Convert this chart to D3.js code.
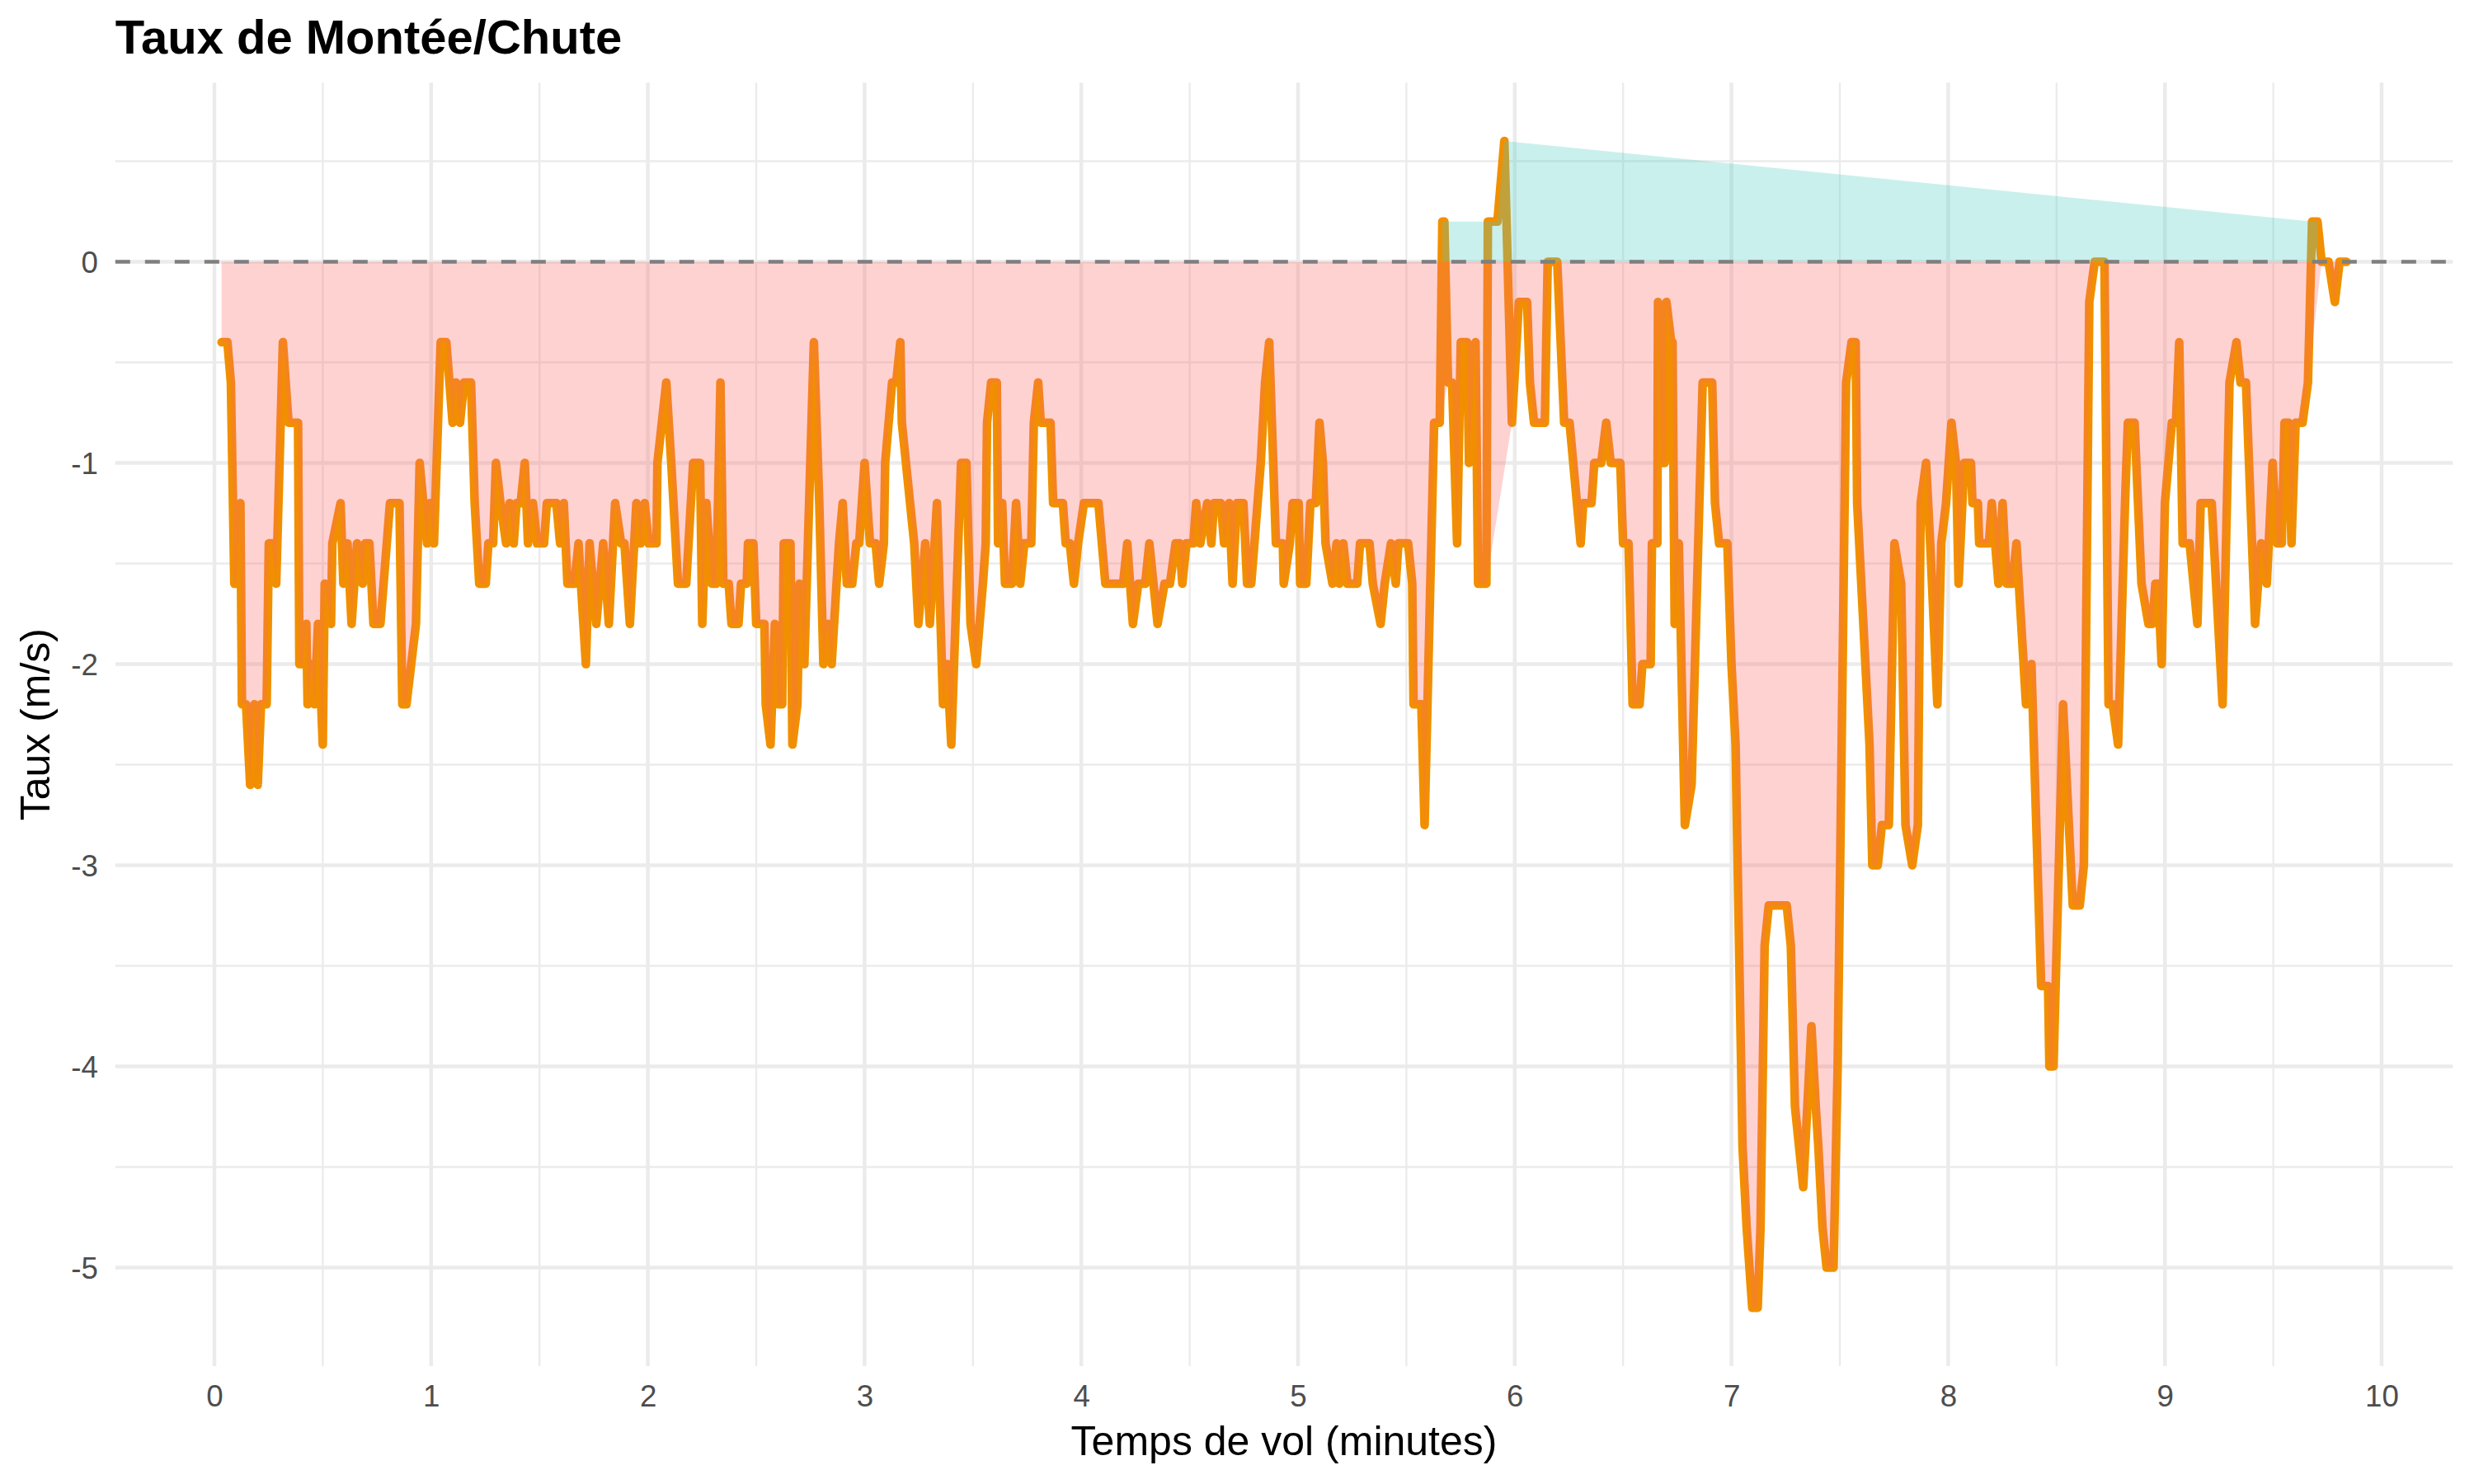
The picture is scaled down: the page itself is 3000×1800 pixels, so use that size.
<!DOCTYPE html>
<html><head><meta charset="utf-8">
<script src="https://cdn.jsdelivr.net/npm/d3@7"></script>
<style>html,body{margin:0;padding:0;background:#fff;} svg{display:block;}</style>
</head><body>
<svg id="chart" width="3000" height="1800"></svg>
<script>
// Flight time (minutes) and climb/sink rate (m/s)
const timeMin = [
0.033,0.060,0.076,0.092,0.101,0.120,0.127,0.146,0.165,0.184,0.200,0.215,0.241,0.251,0.266,0.285,0.316,0.342,0.386,0.392,
0.405,0.424,0.430,0.449,0.462,0.478,0.500,0.509,0.538,0.544,0.582,0.595,0.614,0.633,0.658,0.684,0.696,0.715,0.734,0.766,
0.810,0.854,0.867,0.886,0.930,0.947,0.981,0.994,1.013,1.044,1.070,1.099,1.114,1.133,1.152,1.184,1.201,1.222,1.252,1.264,
1.286,1.299,1.320,1.346,1.362,1.381,1.394,1.413,1.432,1.447,1.470,1.489,1.521,1.534,1.578,1.595,1.612,1.629,1.661,1.680,
1.714,1.731,1.762,1.794,1.820,1.849,1.877,1.892,1.917,1.947,1.966,1.985,2.004,2.040,2.044,2.085,2.108,2.139,2.177,2.209,
2.241,2.251,2.270,2.295,2.316,2.335,2.348,2.373,2.386,2.418,2.430,2.456,2.462,2.487,2.500,2.538,2.544,2.566,2.586,2.601,
2.620,2.627,2.658,2.667,2.690,2.700,2.722,2.766,2.791,2.810,2.829,2.848,2.882,2.899,2.918,2.943,2.962,2.975,3.000,3.025,
3.051,3.067,3.089,3.095,3.127,3.146,3.165,3.172,3.229,3.248,3.280,3.301,3.334,3.362,3.381,3.400,3.445,3.470,3.489,3.515,
3.546,3.559,3.565,3.584,3.610,3.616,3.635,3.648,3.680,3.699,3.718,3.737,3.769,3.781,3.801,3.813,3.858,3.870,3.915,3.928,
3.947,3.966,3.985,4.012,4.079,4.111,4.193,4.212,4.238,4.263,4.295,4.314,4.352,4.384,4.409,4.435,4.454,4.466,4.485,4.517,
4.530,4.549,4.581,4.600,4.612,4.644,4.659,4.682,4.698,4.718,4.748,4.765,4.784,4.828,4.848,4.867,4.898,4.930,4.934,4.962,
4.975,5.003,5.010,5.038,5.057,5.082,5.099,5.115,5.127,5.159,5.178,5.190,5.209,5.228,5.273,5.286,5.330,5.345,5.381,5.400,
5.429,5.451,5.463,5.508,5.527,5.533,5.569,5.584,5.628,5.654,5.666,5.675,5.692,5.711,5.734,5.751,5.780,5.789,5.819,5.831,
5.869,5.876,5.920,5.952,5.987,6.019,6.057,6.070,6.089,6.139,6.152,6.196,6.228,6.253,6.304,6.316,6.354,6.367,6.399,6.422,
6.443,6.487,6.500,6.525,6.530,6.544,6.576,6.589,6.627,6.633,6.658,6.661,6.677,6.692,6.700,6.722,6.728,6.738,6.757,6.785,
6.816,6.867,6.911,6.924,6.943,6.981,7.000,7.019,7.051,7.070,7.096,7.121,7.134,7.153,7.172,7.255,7.274,7.293,7.331,7.350,
7.369,7.389,7.401,7.420,7.439,7.471,7.490,7.529,7.554,7.573,7.580,7.637,7.650,7.675,7.694,7.726,7.752,7.783,7.803,7.834,
7.860,7.873,7.898,7.917,7.950,7.968,7.990,8.015,8.036,8.048,8.074,8.105,8.112,8.137,8.143,8.188,8.201,8.232,8.251,8.270,
8.296,8.315,8.359,8.384,8.429,8.461,8.467,8.486,8.530,8.575,8.607,8.626,8.651,8.676,8.721,8.740,8.759,8.784,8.816,8.829,
8.860,8.892,8.924,8.943,8.956,8.968,8.985,9.000,9.032,9.051,9.066,9.082,9.114,9.150,9.165,9.216,9.266,9.298,9.330,9.349,
9.374,9.416,9.444,9.470,9.497,9.518,9.539,9.552,9.571,9.584,9.603,9.635,9.660,9.679,9.704,9.723,9.755,9.784,9.806,9.838
];
const rate = [
-0.4,-0.4,-0.6,-1.6,-1.6,-1.2,-2.2,-2.2,-2.6,-2.2,-2.6,-2.2,-2.2,-1.4,-1.4,-1.6,-0.4,-0.8,-0.8,-2.0,
-2.0,-1.8,-2.2,-2.0,-2.2,-1.8,-2.4,-1.6,-1.8,-1.4,-1.2,-1.6,-1.4,-1.8,-1.4,-1.6,-1.4,-1.4,-1.8,-1.8,
-1.2,-1.2,-2.2,-2.2,-1.8,-1.0,-1.4,-1.2,-1.4,-0.4,-0.4,-0.8,-0.6,-0.8,-0.6,-0.6,-1.2,-1.6,-1.6,-1.4,
-1.4,-1.0,-1.2,-1.4,-1.2,-1.4,-1.2,-1.2,-1.0,-1.4,-1.2,-1.4,-1.4,-1.2,-1.2,-1.4,-1.2,-1.6,-1.6,-1.4,
-2.0,-1.4,-1.8,-1.4,-1.8,-1.2,-1.4,-1.4,-1.8,-1.2,-1.4,-1.2,-1.4,-1.4,-1.0,-0.6,-1.0,-1.6,-1.6,-1.0,
-1.0,-1.8,-1.2,-1.6,-1.6,-0.6,-1.6,-1.6,-1.8,-1.8,-1.6,-1.6,-1.4,-1.4,-1.8,-1.8,-2.2,-2.4,-1.8,-2.2,
-2.2,-1.4,-1.4,-2.4,-2.2,-1.6,-2.0,-0.4,-1.2,-2.0,-1.8,-2.0,-1.4,-1.2,-1.6,-1.6,-1.4,-1.4,-1.0,-1.4,
-1.4,-1.6,-1.4,-1.0,-0.6,-0.6,-0.4,-0.8,-1.4,-1.8,-1.4,-1.8,-1.2,-2.2,-2.0,-2.4,-1.0,-1.0,-1.8,-2.0,
-1.6,-1.4,-0.8,-0.6,-0.6,-1.4,-1.2,-1.6,-1.6,-1.2,-1.6,-1.4,-1.4,-0.8,-0.6,-0.8,-0.8,-1.2,-1.2,-1.4,
-1.4,-1.6,-1.4,-1.2,-1.2,-1.6,-1.6,-1.4,-1.8,-1.6,-1.6,-1.4,-1.8,-1.6,-1.6,-1.4,-1.4,-1.6,-1.4,-1.4,
-1.2,-1.4,-1.2,-1.4,-1.2,-1.2,-1.4,-1.2,-1.6,-1.2,-1.2,-1.6,-1.6,-1.0,-0.6,-0.4,-1.4,-1.4,-1.6,-1.4,
-1.2,-1.2,-1.6,-1.6,-1.2,-1.2,-0.8,-1.0,-1.4,-1.6,-1.4,-1.6,-1.4,-1.6,-1.6,-1.4,-1.4,-1.6,-1.8,-1.6,
-1.4,-1.6,-1.4,-1.4,-1.6,-2.2,-2.2,-2.8,-0.8,-0.8,0.2,0.2,-0.6,-0.6,-1.4,-0.4,-0.4,-1.0,-0.4,-1.6,
-1.6,0.2,0.2,0.6,-0.8,-0.2,-0.2,-0.6,-0.8,-0.8,0.0,0.0,-0.8,-0.8,-1.4,-1.2,-1.2,-1.0,-1.0,-0.8,
-1.0,-1.0,-1.4,-1.4,-1.6,-2.2,-2.2,-2.0,-2.0,-1.4,-1.4,-0.2,-1.0,-1.0,-0.2,-0.4,-0.4,-1.8,-1.4,-2.8,
-2.6,-0.6,-0.6,-1.2,-1.4,-1.4,-2.0,-2.4,-4.4,-4.8,-5.2,-5.2,-4.8,-3.4,-3.2,-3.2,-3.4,-4.2,-4.6,-4.2,
-3.8,-4.2,-4.4,-4.8,-5.0,-5.0,-4.0,-0.6,-0.4,-0.4,-1.2,-2.4,-3.0,-3.0,-2.8,-2.8,-1.4,-1.6,-2.8,-3.0,
-2.8,-1.2,-1.0,-1.4,-2.2,-1.4,-1.2,-0.8,-1.0,-1.6,-1.0,-1.0,-1.2,-1.2,-1.4,-1.4,-1.2,-1.6,-1.2,-1.6,
-1.6,-1.4,-2.2,-2.0,-3.6,-3.6,-4.0,-4.0,-2.2,-3.2,-3.2,-3.0,-0.2,0.0,0.0,-2.2,-2.2,-2.4,-1.2,-0.8,
-0.8,-1.6,-1.8,-1.8,-1.6,-1.6,-2.0,-1.2,-0.8,-0.8,-0.4,-1.4,-1.4,-1.8,-1.2,-1.2,-2.2,-0.6,-0.4,-0.6,
-0.6,-1.8,-1.4,-1.6,-1.0,-1.4,-1.4,-0.8,-0.8,-1.4,-0.8,-0.8,-0.6,0.2,0.2,0.0,0.0,-0.2,0.0,0.0
];
const xTickValues = [0,1,2,3,4,5,6,7,8,9,10];
const xTickLabels = ["0","1","2","3","4","5","6","7","8","9","10"];
const yTickValues = [0,-1,-2,-3,-4,-5];
const yTickLabels = ["0","-1","-2","-3","-4","-5"];
const titleText = "Taux de Montée/Chute";
const xTitleText = "Temps de vol (minutes)";
const yTitleText = "Taux (m/s)";

const data = timeMin.map((t, i) => ({t, v: rate[i]}));
const FONT = "'Liberation Sans', Arial, Helvetica, sans-serif";

const x = d3.scaleLinear().domain([0, 10]).range([260, 2888]);
const y = d3.scaleLinear().domain([0, -5]).range([317.5, 1537.5]);

const [tMin, tMax] = d3.extent(timeMin);
const [vMin, vMax] = d3.extent(rate);
const tPad = 0.05 * (tMax - tMin), vPad = 0.05 * (vMax - vMin);
const pL = x(tMin - tPad), pR = x(tMax + tPad);
const pT = y(vMax + vPad), pB = y(vMin - vPad);

const svg = d3.select("#chart");
svg.append("rect").attr("width", 3000).attr("height", 1800).attr("fill", "#fff");

// grid
const grid = svg.append("g");
const xMinor = d3.range(-0.5, 10.6, 1).filter(d => x(d) >= pL && x(d) <= pR);
const yMinor = d3.range(0.5, -5.6, -1).filter(d => y(d) >= pT && y(d) <= pB);
grid.selectAll(".xm").data(xMinor).join("line")
  .attr("x1", d => x(d)).attr("x2", d => x(d)).attr("y1", pT).attr("y2", pB)
  .attr("stroke", "#EBEBEB").attr("stroke-width", 2.3);
grid.selectAll(".ym").data(yMinor).join("line")
  .attr("y1", d => y(d)).attr("y2", d => y(d)).attr("x1", pL).attr("x2", pR)
  .attr("stroke", "#EBEBEB").attr("stroke-width", 2.3);
grid.selectAll(".xM").data(xTickValues).join("line")
  .attr("x1", d => x(d)).attr("x2", d => x(d)).attr("y1", pT).attr("y2", pB)
  .attr("stroke", "#EBEBEB").attr("stroke-width", 4.5);
grid.selectAll(".yM").data(yTickValues).join("line")
  .attr("y1", d => y(d)).attr("y2", d => y(d)).attr("x1", pL).attr("x2", pR)
  .attr("stroke", "#EBEBEB").attr("stroke-width", 4.5);

// line
const line = d3.line().x(d => x(d.t)).y(d => y(d.v));
svg.append("path").datum(data).attr("d", line)
  .attr("fill", "none").attr("stroke", "#F18F01").attr("stroke-width", 10.5)
  .attr("stroke-linejoin", "round").attr("stroke-linecap", "round");

// areas (drawn over the line, translucent)
const area = d3.area().x(d => x(d.t)).y0(y(0)).y1(d => y(d.v));
svg.append("path").datum(data.filter(d => d.v > 0)).attr("d", area)
  .attr("fill", "#4ECDC4").attr("fill-opacity", 0.3);
svg.append("path").datum(data.filter(d => d.v <= 0)).attr("d", area)
  .attr("fill", "#FF6B6B").attr("fill-opacity", 0.3);

// zero reference
svg.append("line").attr("x1", pL).attr("x2", pR).attr("y1", y(0)).attr("y2", y(0))
  .attr("stroke", "#7F7F7F").attr("stroke-width", 4.5).attr("stroke-dasharray", "18 18");

// axes labels
const xAxis = d3.axisBottom(x).tickValues(xTickValues).tickFormat((d, i) => xTickLabels[i]).tickSize(0).tickPadding(0);
const gx = svg.append("g").attr("transform", `translate(0,${pB})`).call(xAxis);
gx.select(".domain").remove();
gx.selectAll("text").attr("y", 49).attr("dy", null)
  .attr("font-family", FONT).attr("font-size", 36.7).attr("fill", "#4D4D4D");

const yAxis = d3.axisLeft(y).tickValues(yTickValues).tickFormat((d, i) => yTickLabels[i]).tickSize(0).tickPadding(0);
const gy = svg.append("g").attr("transform", `translate(${pL},0)`).call(yAxis);
gy.select(".domain").remove();
gy.selectAll("text").attr("x", -21).attr("dy", "0.36em")
  .attr("font-family", FONT).attr("font-size", 36.7).attr("fill", "#4D4D4D").attr("text-anchor", "end");

// titles
svg.append("text").attr("x", pL).attr("y", 65).text(titleText)
  .attr("font-family", FONT).attr("font-weight", "bold").attr("font-size", 58).attr("fill", "#000");
svg.append("text").attr("x", (pL + pR) / 2).attr("y", 1765).attr("text-anchor", "middle").text(xTitleText)
  .attr("font-family", FONT).attr("font-size", 50).attr("fill", "#000");
svg.append("text").attr("transform", `translate(60,${(pT + pB) / 2}) rotate(-90)`).attr("text-anchor", "middle").text(yTitleText)
  .attr("font-family", FONT).attr("font-size", 50).attr("fill", "#000");
</script>
</body></html>
